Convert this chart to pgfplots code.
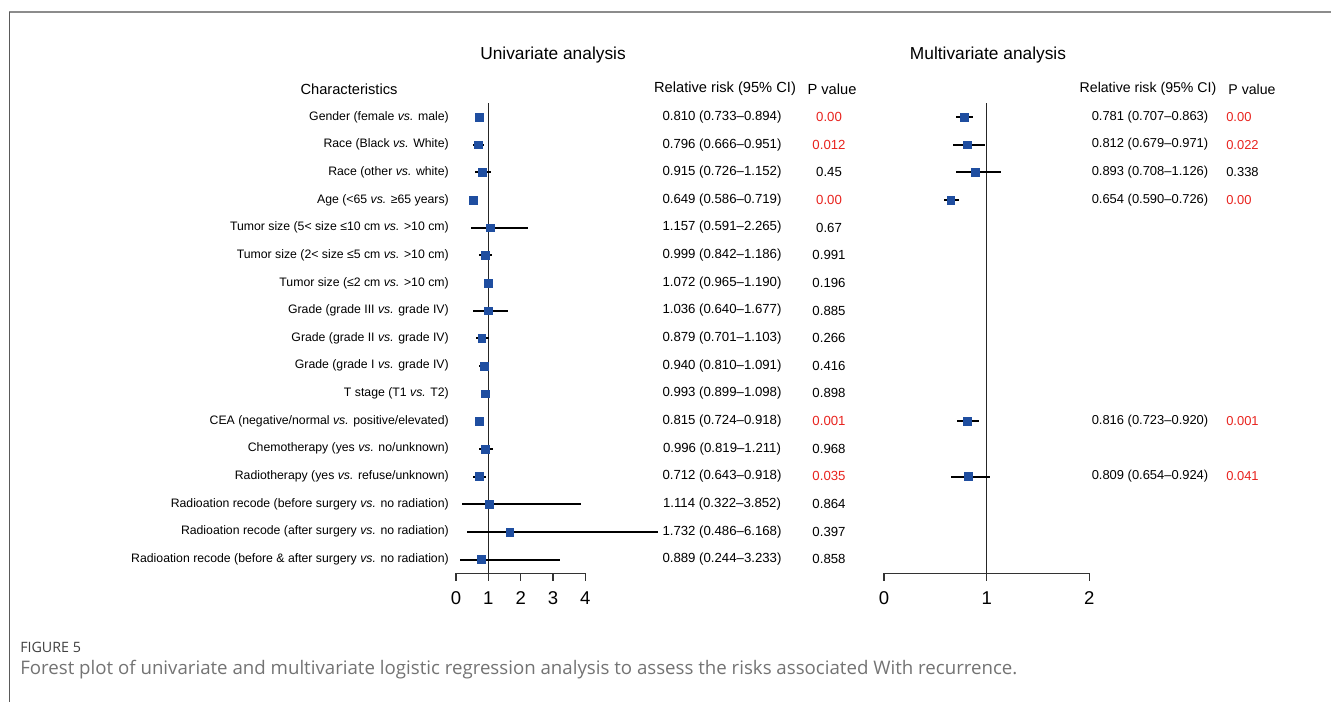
\documentclass[border=0pt]{standalone}
\usepackage{pgfplots}
\pgfplotsset{compat=1.18}
\usepackage{pgfplotstable}
\usepackage{fontspec}
\setmainfont{Liberation Sans}
\newfontfamily\capfont{Open Sans}
\definecolor{sqblue}{RGB}{31,78,160}
\definecolor{pred}{RGB}{232,35,30}
\definecolor{capgray}{RGB}{115,115,115}

% y = 18 - row index ; est, lower, upper
\pgfplotstableread{
y  est  lo   hi
17 0.71 0.64 0.79
16 0.69 0.54 0.88
15 0.81 0.60 1.08
14 0.54 0.49 0.60
13 1.07 0.46 2.24
12 0.91 0.72 1.12
11 1.00 0.90 1.10
10 1.00 0.52 1.62
9  0.80 0.62 1.02
8  0.87 0.72 1.02
7  0.90 0.81 0.99
6  0.72 0.64 0.81
5  0.90 0.70 1.14
4  0.71 0.52 0.93
3  1.03 0.19 3.87
2  1.66 0.35 6.24
1  0.79 0.12 3.22
}\unidata

\pgfplotstableread{
y  est  lo   hi
17 0.78 0.70 0.87
16 0.81 0.67 0.98
15 0.89 0.70 1.14
14 0.65 0.58 0.73
6  0.81 0.71 0.93
4  0.82 0.65 1.03
}\multidata

\newcommand{\labfont}{\fontsize{9.2}{11}\selectfont}
\newcommand{\valfontL}{\fontsize{9.9}{12}\selectfont}
\newcommand{\valfontR}{\fontsize{9.7}{12}\selectfont}
\newcommand{\hdfontL}{\fontsize{11}{13}\selectfont}
\newcommand{\hdfontR}{\fontsize{10.6}{13}\selectfont}
% pixel rows measured from the top of the image
\newcommand{\ry}[1]{{702-(117+27.64*(#1-1))}}
\newcommand{\lab}[2]{\node[anchor=east,font=\labfont,inner sep=0pt] at (449,\ry{#1}) {#2};}
\newcommand{\uv}[4]{\node[font=\valfontL,inner sep=0pt] at (722,\ry{#1}) {#2};
  \node[font=\valfontL,inner sep=0pt,text=#4] at (829,\ry{#1}) {#3};}
\newcommand{\mv}[4]{\node[font=\valfontR,inner sep=0pt] at (1150,\ry{#1}) {#2};
  \node[anchor=west,font=\valfontR,inner sep=0pt,text=#4] at (1226,\ry{#1}) {#3};}

\pgfplotsset{
  forest/.style={
    scale only axis,
    ymin=0.5, ymax=17.5,
    axis x line*=bottom, axis y line=none,
    tick align=outside, major tick length=5.5pt,
    x axis line style={-, line width=0.8pt, black!80},
    every tick/.style={line width=0.8pt, black!80},
    xticklabel style={font=\fontsize{13.9}{16}\selectfont, /pgf/number format/assume math mode=true, yshift=-4.5pt},
    clip=false,
  },
  ci/.style={only marks, mark=square*, mark size=2.9pt,
    mark options={fill=sqblue, draw=sqblue},
    error bars/.cd, x dir=both, x explicit, error mark=none,
    error bar style={black, line width=1.5pt}},
}

\begin{document}
\begin{tikzpicture}[x=0.75pt,y=0.75pt]
\useasboundingbox (0,0) rectangle (1331,702);
\coordinate (UA) at (456,128.6);
\coordinate (MA) at (884,128.6);
% frame
\draw[color={rgb,255:red,140;green,140;blue,140}, line width=1.1pt] (9,690) -- (1331,690);
\draw[color={rgb,255:red,90;green,90;blue,90}, line width=0.7pt] (9,690) -- (9,0);

% univariate axis
\begin{axis}[forest, at={(UA)}, anchor=south west,
  width=97pt, height=352.6pt, xmin=0, xmax=4, xtick={0,1,2,3,4}]
\addplot[black!85, line width=0.75pt] coordinates {(1,0.5) (1,17.5)};
\addplot[ci] table[x=est, y=y, x error plus expr=\thisrow{hi}-\thisrow{est}, x error minus expr=\thisrow{est}-\thisrow{lo}] {\unidata};
\end{axis}

% multivariate axis
\begin{axis}[forest, at={(MA)}, anchor=south west,
  width=154pt, height=352.6pt, xmin=0, xmax=2, xtick={0,1,2}]
\addplot[black!85, line width=0.75pt] coordinates {(1,0.5) (1,17.5)};
\addplot[ci] table[x=est, y=y, x error plus expr=\thisrow{hi}-\thisrow{est}, x error minus expr=\thisrow{est}-\thisrow{lo}] {\multidata};
\end{axis}

% titles and headers
\node[font=\fontsize{13}{15}\selectfont] at (553,{702-55}) {Univariate analysis};
\node[font=\fontsize{13}{15}\selectfont] at (988,{702-55}) {Multivariate analysis};
\node[font=\hdfontL] at (349,{702-89}) {Characteristics};
\node[font=\hdfontL] at (725,{702-89}) {Relative risk (95\% CI)};
\node[font=\hdfontL] at (832,{702-89}) {P value};
\node[font=\hdfontR] at (1148,{702-89}) {Relative risk (95\% CI)};
\node[font=\hdfontR] at (1252,{702-89}) {P value};

% row labels
\lab{1}{Gender (female \textit{vs.} male)}
\lab{2}{Race (Black \textit{vs.} White)}
\lab{3}{Race (other \textit{vs.} white)}
\lab{4}{Age (<65 \textit{vs.} ≥65 years)}
\lab{5}{Tumor size (5< size ≤10 cm \textit{vs.} >10 cm)}
\lab{6}{Tumor size (2< size ≤5 cm \textit{vs.} >10 cm)}
\lab{7}{Tumor size (≤2 cm \textit{vs.} >10 cm)}
\lab{8}{Grade (grade III \textit{vs.} grade IV)}
\lab{9}{Grade (grade II \textit{vs.} grade IV)}
\lab{10}{Grade (grade I \textit{vs.} grade IV)}
\lab{11}{T stage (T1 \textit{vs.} T2)}
\lab{12}{CEA (negative/normal \textit{vs.} positive/elevated)}
\lab{13}{Chemotherapy (yes \textit{vs.} no/unknown)}
\lab{14}{Radiotherapy (yes \textit{vs.} refuse/unknown)}
\lab{15}{Radioation recode (before surgery \textit{vs.} no radiation)}
\lab{16}{Radioation recode (after surgery \textit{vs.} no radiation)}
\lab{17}{Radioation recode (before \& after surgery \textit{vs.} no radiation)}

% univariate values
\uv{1}{0.810 (0.733–0.894)}{0.00}{pred}
\uv{2}{0.796 (0.666–0.951)}{0.012}{pred}
\uv{3}{0.915 (0.726–1.152)}{0.45}{black}
\uv{4}{0.649 (0.586–0.719)}{0.00}{pred}
\uv{5}{1.157 (0.591–2.265)}{0.67}{black}
\uv{6}{0.999 (0.842–1.186)}{0.991}{black}
\uv{7}{1.072 (0.965–1.190)}{0.196}{black}
\uv{8}{1.036 (0.640–1.677)}{0.885}{black}
\uv{9}{0.879 (0.701–1.103)}{0.266}{black}
\uv{10}{0.940 (0.810–1.091)}{0.416}{black}
\uv{11}{0.993 (0.899–1.098)}{0.898}{black}
\uv{12}{0.815 (0.724–0.918)}{0.001}{pred}
\uv{13}{0.996 (0.819–1.211)}{0.968}{black}
\uv{14}{0.712 (0.643–0.918)}{0.035}{pred}
\uv{15}{1.114 (0.322–3.852)}{0.864}{black}
\uv{16}{1.732 (0.486–6.168)}{0.397}{black}
\uv{17}{0.889 (0.244–3.233)}{0.858}{black}

% multivariate values
\mv{1}{0.781 (0.707–0.863)}{0.00}{pred}
\mv{2}{0.812 (0.679–0.971)}{0.022}{pred}
\mv{3}{0.893 (0.708–1.126)}{0.338}{black}
\mv{4}{0.654 (0.590–0.726)}{0.00}{pred}
\mv{12}{0.816 (0.723–0.920)}{0.001}{pred}
\mv{14}{0.809 (0.654–0.924)}{0.041}{pred}

% caption
\node[anchor=west, font=\capfont\fontsize{10.7}{12}\selectfont, text=black!75, inner sep=0pt] at (20,{702-647}) {FIGURE 5};
\node[anchor=west, font=\capfont\fontsize{14}{16}\selectfont, text=capgray, inner sep=0pt] at (20,{702-670}) {Forest plot of univariate and multivariate logistic regression analysis to assess the risks associated With recurrence.};
\end{tikzpicture}
\end{document}
